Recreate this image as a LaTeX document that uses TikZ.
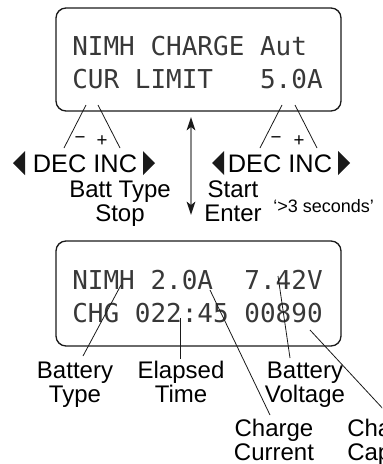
\documentclass[tikz,border=0pt]{standalone}
\usepackage{fontspec}
\setmainfont{Liberation Sans}
\newfontfamily\lcdfont{DejaVu Sans Mono}
\usetikzlibrary{arrows.meta}
\definecolor{Ink}{HTML}{1A1A1A}
\definecolor{Shaft}{HTML}{8A8A8A}

\tikzset{
  lcd/.style={draw=Ink, line width=1pt, rounded corners=7.5pt},
  lcdtext/.style={anchor=base west, inner sep=0pt, text=black!78,
    font=\lcdfont\fontsize{19.5}{19.5}\selectfont},
  tag/.style={anchor=base, inner sep=0pt, align=center,
    font=\fontsize{18}{18}\selectfont},
  keytext/.style={anchor=base, inner sep=0pt, font=\fontsize{19}{19}\selectfont},
  sign/.style={inner sep=0pt, font=\fontsize{14}{14}\selectfont},
  leader/.style={Ink, line width=0.6pt},
}

\begin{document}
\begin{tikzpicture}[x=0.75pt, y=-0.75pt]
  \clip (0,0) rectangle (382,464);

  % upper display
  \draw[lcd] (56,8) rectangle (341,111);
  \node[lcdtext] (setrow1) at (72,55) {NIMH CHARGE Aut};
  \node[lcdtext] (setrow2) at (72,88) {CUR LIMIT\ \ \ 5.0A};

  % buttons
  \node[keytext] (keysL) at (85,172) {DEC INC};
  \node[keytext] (keysR) at (280,172) {DEC INC};
  \fill[Ink] (25,151) -- (13,163) -- (25,175) -- cycle;
  \fill[Ink] (143,151) -- (155,163) -- (143,175) -- cycle;
  \fill[Ink] (224,151) -- (212,163) -- (224,175) -- cycle;
  \fill[Ink] (338,151) -- (350,163) -- (338,175) -- cycle;
  \node[sign] (minusL) at (80,140) {−};
  \node[sign] (plusL) at (102,141) {+};
  \node[sign] (minusR) at (276,140) {−};
  \node[sign] (plusR) at (299,141) {+};

  \coordinate (decL) at (86,105);
  \coordinate (incL) at (98,105);
  \coordinate (decR) at (282,105);
  \coordinate (incR) at (295,105);
  \coordinate (decLend) at (64,148);
  \coordinate (incLend) at (120,148);
  \coordinate (decRend) at (260,148);
  \coordinate (incRend) at (317,148);
  \draw[leader] (decL) -- (decLend);
  \draw[leader] (incL) -- (incLend);
  \draw[leader] (decR) -- (decRend);
  \draw[leader] (incR) -- (incRend);

  % anchor=base sits on the last line
  \node[tag] (batttype) at (120,221) {Batt Type\\Stop};
  \node[tag] (startkey) at (233,221) {Start\\Enter};
  \node[anchor=base west, inner sep=0pt, font=\fontsize{13.5}{13.5}\selectfont]
    (hold) at (273,212) {‘>3 seconds’};

  % arrow between displays
  \coordinate (arrtop) at (191,117);
  \coordinate (arrbot) at (191,215);
  \draw[Shaft, line width=1.2pt,
    {Stealth[Ink,length=10pt,width=6.5pt,inset=2.5pt]}-{Stealth[Ink,length=10pt,width=6.5pt,inset=2.5pt]}]
    (arrtop) -- (arrbot);

  % lower display
  \draw[lcd] (56,241) rectangle (341,346);
  \node[lcdtext] (runrow1) at (72,289) {NIMH 2.0A\ \ 7.42V};
  \node[lcdtext] (runrow2) at (72,322) {CHG 022:45 00890};

  \node[tag] (btype) at (75,402) {Battery\\Type};
  \node[tag] (elapsed) at (181,402) {Elapsed\\Time};
  \node[tag] (bvolt) at (305,402) {Battery\\Voltage};
  \node[tag] (ccurrent) at (274,460) {Charge\\Current};
  \node[tag, anchor=base west, align=left] (ccap) at (347,460) {Charge\\Capacity};

  \coordinate (ptype) at (121,285);
  \coordinate (ptime) at (180,318);
  \coordinate (pcurr) at (210,290);
  \coordinate (pvolt) at (278,276);
  \coordinate (pcap) at (310,330);
  \coordinate (etype) at (83,356);
  \coordinate (etime) at (180,359);
  \coordinate (ecurr) at (270,415);
  \coordinate (evolt) at (290,358);
  \coordinate (ecap) at (386,412);
  \draw[leader] (ptype) -- (etype);
  \draw[leader] (ptime) -- (etime);
  \draw[leader] (pcurr) -- (ecurr);
  \draw[leader] (pvolt) -- (evolt);
  \draw[leader] (pcap) -- (ecap);
\end{tikzpicture}
\end{document}
